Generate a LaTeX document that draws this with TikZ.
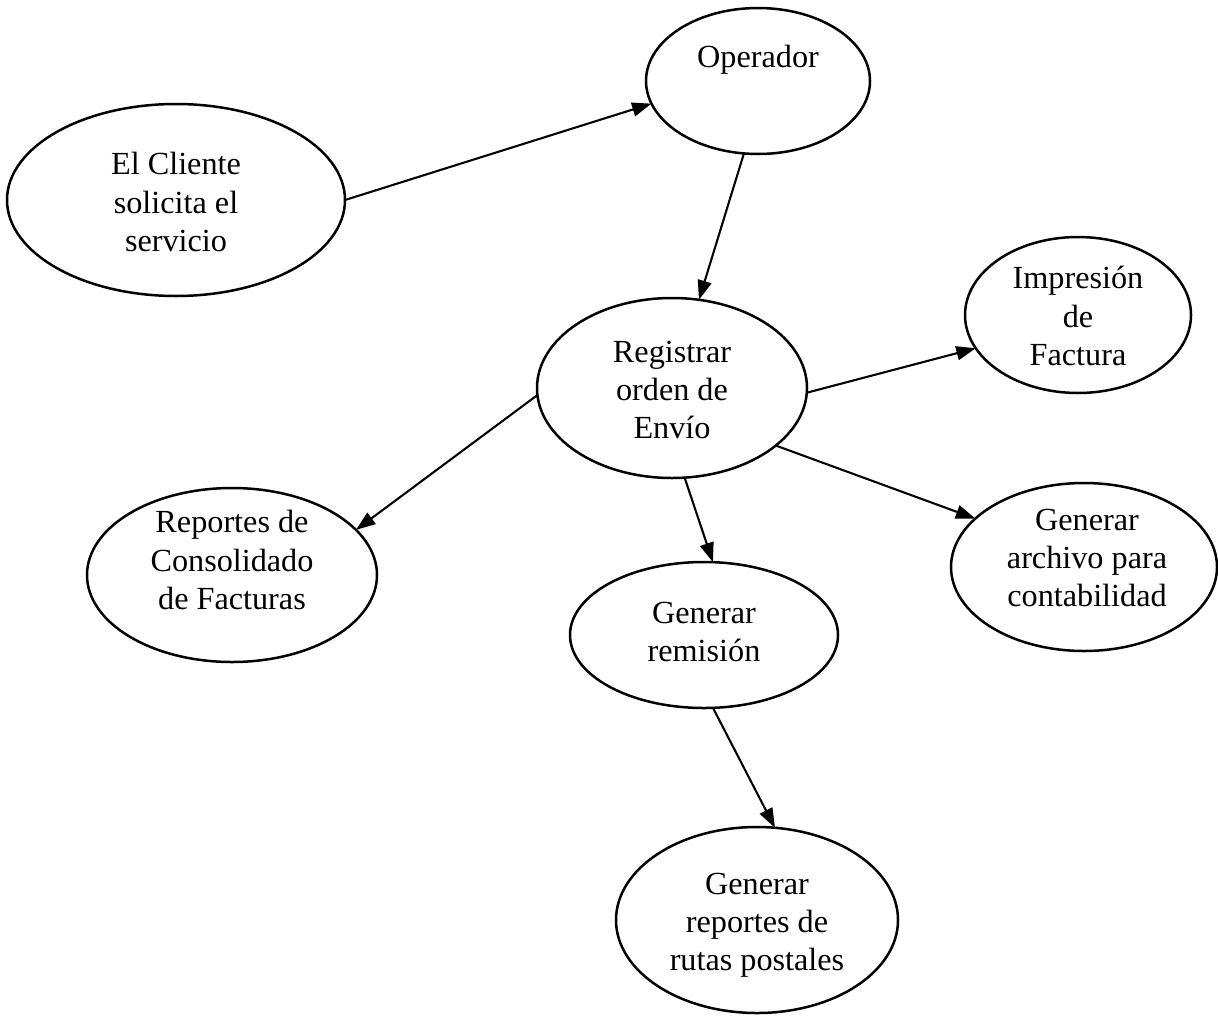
\documentclass[tikz,border=0pt]{standalone}
\usepackage{fontspec}
\setmainfont{Liberation Serif}
\usetikzlibrary{shapes.geometric,arrows.meta}
\begin{document}
\begin{tikzpicture}[x=0.36pt,y=-0.36pt,
  elli/.style={draw,ellipse,line width=0.9pt,inner sep=0pt,outer sep=0pt},
  txt/.style={align=center,inner sep=0pt,font=\fontsize{11.6}{13.7}\selectfont},
  conn/.style={line width=0.75pt,-{Triangle[length=7pt,width=5pt]}}]
\useasboundingbox (0,0) rectangle (1218,1019);
% ellipses
\node[elli,minimum width=121.68pt,minimum height=69.12pt] (cli) at (176,200) {};
\node[elli,minimum width=80.64pt,minimum height=52.56pt] (op) at (758,81) {};
\node[elli,minimum width=97.2pt,minimum height=64.8pt] (reg) at (672,388) {};
\node[elli,minimum width=81.36pt,minimum height=56.16pt] (imp) at (1078,315) {};
\node[elli,minimum width=104.4pt,minimum height=62.64pt] (rep) at (232,575) {};
\node[elli,minimum width=95.76pt,minimum height=60.48pt] (arc) at (1084,567) {};
\node[elli,minimum width=96.48pt,minimum height=52.56pt] (rem) at (704,635) {};
\node[elli,minimum width=101.52pt,minimum height=66.96pt] (rut) at (757,920) {};
% texts
\node[txt] (cliT) at (176,202) {El Cliente\\solicita el\\servicio};
\node[txt] (opT) at (758,60) {Operador};
\node[txt] (regT) at (672,390) {Registrar\\orden de\\Envío};
\node[txt] (impT) at (1078,316) {Impresión\\de\\Factura};
\node[txt] (repT) at (232,560) {Reportes de\\Consolidado\\de Facturas};
\node[txt] (arcT) at (1087,558) {Generar\\archivo para\\contabilidad};
\node[txt] (remT) at (704,632) {Generar\\remisión};
\node[txt] (rutT) at (757,925) {Generar\\reportes de\\rutas postales};
% connectors
\draw[conn] (cli.east) -- (op.192.1);
\draw[conn] (op.259.8) -- (reg.73.9);
\draw[conn] (reg.-2.5) -- (imp.198.6);
\draw[conn] (reg.183) -- (rep.20.6);
\draw[conn] (reg.-29.3) -- (arc.156.4);
\draw[conn] (reg.-82) -- (rem.83.9);
\draw[conn] (rem.-83.7) -- (rut.79);
\end{tikzpicture}
\end{document}
